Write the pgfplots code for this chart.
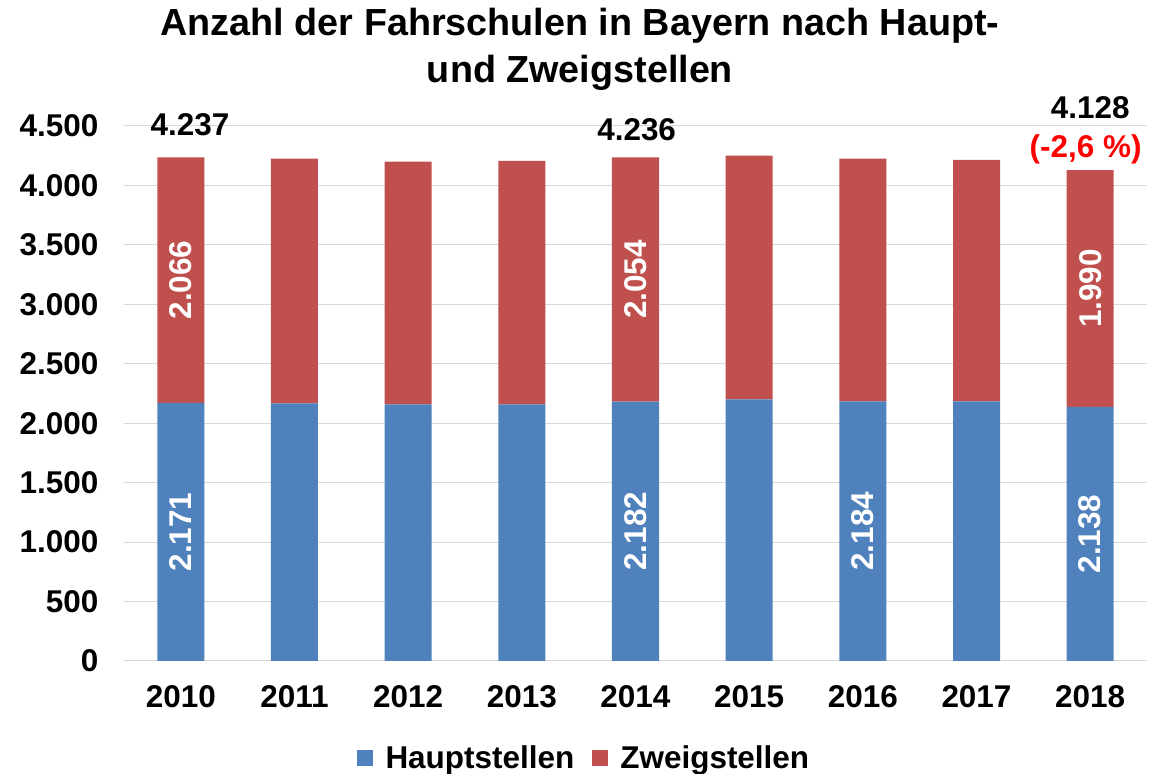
\documentclass[border=0pt]{standalone}
\usepackage{fontspec}
\setmainfont{Liberation Sans}
\usepackage{pgfplots}
\pgfplotsset{compat=1.18}
\definecolor{hblue}{HTML}{4F81BD}
\definecolor{zred}{HTML}{C0504D}
\definecolor{gridc}{HTML}{D9D9D9}
\newcommand{\lf}{\fontsize{23.6}{28}\selectfont\bfseries}
\newcommand{\tf}{\fontsize{28.3}{34}\selectfont\bfseries}
\begin{document}
\begin{tikzpicture}
\useasboundingbox (-93pt,-84.75pt) rectangle (769.5pt,495.75pt);
\begin{axis}[
  at={(0,0)}, anchor=south west,
  scale only axis, width=767.25pt, height=401.25pt,
  ybar stacked, bar width=35.25pt,
  xmin=-0.5, xmax=8.5, ymin=0, ymax=4500,
  xtick={0,...,8}, xticklabels={2010,2011,2012,2013,2014,2015,2016,2017,2018},
  ytick={0,500,...,4500},
  yticklabels={0,500,1.000,1.500,2.000,2.500,3.000,3.500,4.000,4.500},
  axis line style={draw=none}, ymajorgrids, grid style={gridc, line width=0.75pt},
  major tick length=0pt,
  tick label style={font=\lf},
  xticklabel style={yshift=-15pt},
  yticklabel style={xshift=-15.75pt},
  clip=false,
  legend style={at={(0.45,-0.181)}, anchor=center, draw=none, legend columns=2,
    font=\lf, /tikz/every odd column/.append style={column sep=7.5pt},
    /tikz/every even column/.append style={column sep=11pt}},
]
\addplot[fill=hblue, draw=none, legend image code/.code={\fill[hblue] (0pt,-6pt) rectangle (12pt,6pt);}]
  coordinates {(0,2171) (1,2166) (2,2158) (3,2159) (4,2182) (5,2200) (6,2184) (7,2183) (8,2138)};
\addplot[fill=zred, draw=none, legend image code/.code={\fill[zred] (0pt,-6pt) rectangle (12pt,6pt);}]
  coordinates {(0,2066) (1,2060) (2,2042) (3,2047) (4,2054) (5,2050) (6,2042) (7,2032) (8,1990)};
\legend{Hauptstellen,Zweigstellen}
\node[font=\lf, anchor=base] at (axis cs:0.08,4424) {4.237};
\node[font=\lf, anchor=base] at (axis cs:4.01,4382) {4.236};
\node[font=\lf, anchor=base] at (axis cs:8,4567) {4.128};
\node[font=\lf, anchor=base, text=red] at (axis cs:7.96,4239) {(-2,6 \%)};
\coordinate (a1) at (axis cs:0,1085.5);
\coordinate (a2) at (axis cs:0,3204);
\coordinate (b1) at (axis cs:4,1091);
\coordinate (b2) at (axis cs:4,3209);
\coordinate (c1) at (axis cs:6,1092);
\coordinate (d1) at (axis cs:8,1069);
\coordinate (d2) at (axis cs:8,3133);
\end{axis}
\foreach \p/\t in {a1/2.171,a2/2.066,b1/2.182,b2/2.054,c1/2.184,d1/2.138,d2/1.990}
  \node[font=\lf, text=white, rotate=90] at (\p) {\t};
\node[font=\tf, anchor=base] at (342pt,469pt) {Anzahl der Fahrschulen in Bayern nach Haupt-};
\node[font=\tf, anchor=base] at (342pt,434pt) {und Zweigstellen};
\end{tikzpicture}
\end{document}
